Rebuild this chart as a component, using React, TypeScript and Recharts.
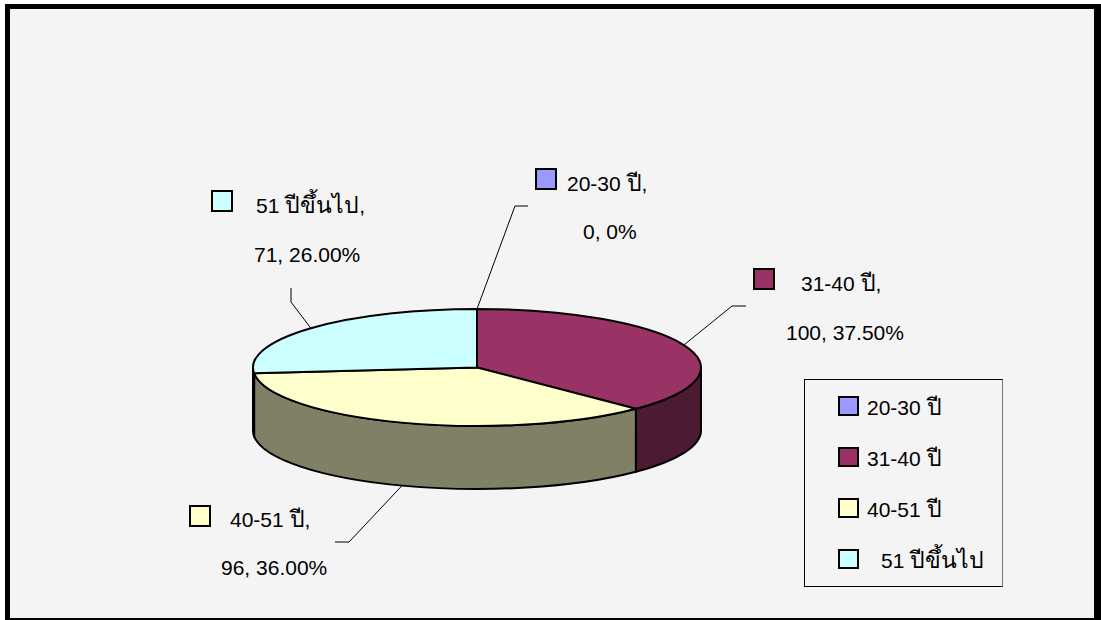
import { Legend, Pie, PieChart } from 'recharts'

const categories = ['20-30 ปี', '31-40 ปี', '40-51 ปี', '51 ปีขึ้นไป']
const values = [0, 100, 96, 71]
const percentLabels = ['0%', '37.50%', '36.00%', '26.00%']
const colors = ['#9999FF', '#993366', '#FFFFCC', '#CCFFFF']
const wallColors = ['#4D4D80', '#4D1A33', '#808066', '#668080']

const tableData = categories.map((name, i) => ({
    name,
    value: values[i],
    fill: colors[i],
    wall: wallColors[i],
}))

// the tilt of the 3D pie
const CX = 477
const CY = 367.5
const RADIUS = 224
const SQUASH = 58.5 / 224
const DEPTH = 63

// callout placement, per category
const calloutLayout = [
    { box: [536, 169], first: [567, 191], second: [583, 239], elbow: [515, 206], tail: [528, 206], depth: 0 },
    { box: [754, 269], first: [801, 291], second: [786, 340], elbow: [732, 306], tail: [746, 306], depth: 0 },
    { box: [190, 506], first: [230, 527], second: [221, 575], elbow: [349, 542], tail: [335, 542], depth: DEPTH },
    { box: [212, 191], first: [256, 213], second: [254, 262], elbow: [291, 302], tail: [291, 288], depth: 0 },
]

const FONT = '"Liberation Sans", Arial, sans-serif'
const FONT_SIZE = 21
const THAI_SIZE = 23
const OUTLINE = 2

// the Thai glyphs run larger than the digits in the original
const splitThai = (text: string) => text.split(/([\u0E00-\u0E7F]+)/).filter(Boolean)

const rimPoint = (angle: number, dy = 0) => {
    const rad = (angle * Math.PI) / 180
    return [CX + RADIUS * Math.cos(rad), CY - RADIUS * SQUASH * Math.sin(rad) + dy]
}

const TopFace = (props: any) => {
    const { startAngle, endAngle, fill } = props
    if (startAngle === endAngle) return <g />
    const [x1, y1] = rimPoint(startAngle)
    const [x2, y2] = rimPoint(endAngle)
    const large = Math.abs(startAngle - endAngle) > 180 ? 1 : 0
    const ry = RADIUS * SQUASH
    const d = `M${CX},${CY} L${x1},${y1} A${RADIUS},${ry} 0 ${large} 1 ${x2},${y2} Z`
    return <path d={d} fill={fill} stroke="#000" strokeWidth={OUTLINE} strokeLinejoin="round" />
}

// only the part of the rim facing the viewer gets a wall
const SideWall = (props: any) => {
    const { startAngle, endAngle, wall } = props
    const from = Math.min(startAngle, 0)
    const to = Math.max(endAngle, -180)
    if (from <= to) return <g />
    const [x1, y1] = rimPoint(from)
    const [x2, y2] = rimPoint(to)
    const ry = RADIUS * SQUASH
    const d = `M${x1},${y1} A${RADIUS},${ry} 0 0 1 ${x2},${y2} L${x2},${y2 + DEPTH} A${RADIUS},${ry} 0 0 0 ${x1},${y1 + DEPTH} Z`
    return <path d={d} fill={wall} stroke="#000" strokeWidth={OUTLINE} strokeLinejoin="round" />
}

const Callout = (props: any) => {
    const { index, midAngle, fill } = props
    const spot = calloutLayout[index]
    const [sx, sy] = rimPoint(midAngle, spot.depth)
    return (
        <g fontFamily={FONT} fontSize={FONT_SIZE} fill="#000">
            <polyline
                points={`${sx},${sy} ${spot.elbow.join(',')} ${spot.tail.join(',')}`}
                fill="none"
                stroke="#000"
                strokeWidth={1}
            />
            <rect x={spot.box[0]} y={spot.box[1]} width={20} height={20} fill={fill} stroke="#000" strokeWidth={2} />
            <text x={spot.first[0]} y={spot.first[1]} fill="#000">
                {splitThai(`${categories[index]},`).map((part, i) => (
                    <tspan key={i} fontSize={/[\u0E00-\u0E7F]/.test(part) ? THAI_SIZE : FONT_SIZE}>{part}</tspan>
                ))}
            </text>
            <text x={spot.second[0]} y={spot.second[1]} fill="#000">{values[index]}, {percentLabels[index]}</text>
        </g>
    )
}

const LegendBox = ({ payload }: any) => {
    const items = (payload ?? []).filter((item: any) => item.type !== 'none')
    return (
        <div
            style={{
                width: 199,
                height: 208,
                boxSizing: 'border-box',
                border: '1px solid #000',
                borderRightColor: '#777',
                position: 'relative',
                fontFamily: FONT,
                fontSize: FONT_SIZE,
                color: '#000',
            }}
        >
            {items.slice(-categories.length).map((item: any, i: number) => (
                <div key={item.value} style={{ position: 'absolute', left: 33, top: 16 + i * 51, height: 20, whiteSpace: 'nowrap' }}>
                    <span
                        style={{
                            position: 'absolute',
                            left: 0,
                            top: 0,
                            width: 21,
                            height: 20,
                            boxSizing: 'border-box',
                            background: item.color,
                            border: '2px solid #000',
                        }}
                    />
                    <span style={{ position: 'absolute', left: i === 3 ? 43 : 29, top: -1, lineHeight: '24px' }}>
                        {splitThai(item.value).map((part, j) => (
                            <span key={j} style={/[\u0E00-\u0E7F]/.test(part) ? { fontSize: THAI_SIZE } : undefined}>{part}</span>
                        ))}
                    </span>
                </div>
            ))}
        </div>
    )
}

const App = () => {
    return (
        <div style={{ position: 'absolute', left: 0, top: 0, width: 1101, height: 620, background: '#fff', overflow: 'hidden' }}>
            <div
                style={{
                    position: 'absolute',
                    left: 5,
                    top: 4,
                    width: 1096,
                    height: 616,
                    boxSizing: 'border-box',
                    background: '#F4F4F4',
                    borderStyle: 'solid',
                    borderColor: '#000',
                    borderWidth: '5px 7px 2px 5px',
                }}
            />
            <PieChart width={1101} height={620} margin={{ top: 0, right: 0, bottom: 0, left: 0 }} style={{ position: 'absolute', left: 0, top: 0 }}>
                <Pie
                    data={tableData}
                    dataKey="value"
                    nameKey="name"
                    cx={CX}
                    cy={CY}
                    outerRadius={RADIUS}
                    startAngle={90}
                    endAngle={-270}
                    shape={SideWall}
                    legendType="none"
                    label={false}
                    labelLine={false}
                    isAnimationActive={false}
                />
                <Pie
                    data={tableData}
                    dataKey="value"
                    nameKey="name"
                    cx={CX}
                    cy={CY}
                    outerRadius={RADIUS}
                    startAngle={90}
                    endAngle={-270}
                    shape={TopFace}
                    label={Callout}
                    labelLine={false}
                    isAnimationActive={false}
                />
                <Legend content={LegendBox} wrapperStyle={{ left: 804, top: 379, width: 199 }} />
            </PieChart>
        </div>
    )
}

export default App
